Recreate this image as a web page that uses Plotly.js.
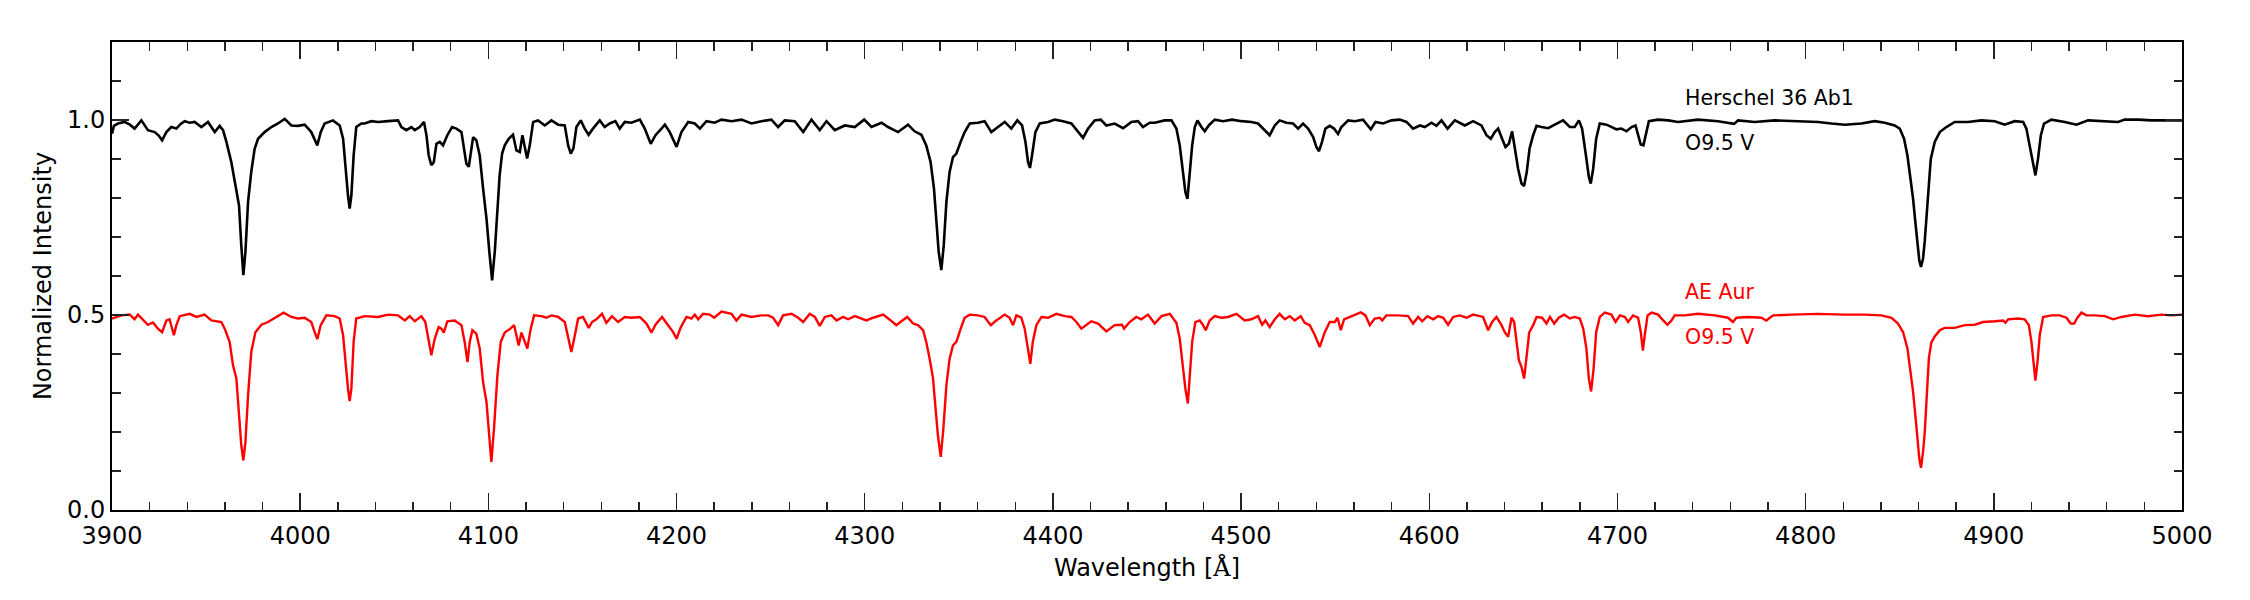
<!DOCTYPE html>
<html>
<head>
<meta charset="utf-8">
<script src="https://cdn.plot.ly/plotly-3.0.1.min.js"></script>
<style>html,body{margin:0;padding:0;background:#fff;}</style>
</head>
<body>
<div id="chart" style="width:2250px;height:600px;"></div>
<script>
// Herschel 36 Ab1 spectrum: [wavelength (Å), normalized intensity]
const herschelSpectrum = [
[3900.0,0.965],[3901.0,0.985],[3903.2,0.991],[3906.7,0.995],[3909.5,0.988],[3912.0,0.978],[3915.6,0.999],[3917.5,0.985],
[3919.1,0.974],[3922.7,0.969],[3924.8,0.960],[3926.6,0.948],[3928.9,0.969],[3931.5,0.982],[3934.2,0.978],[3936.5,0.990],
[3938.6,0.997],[3941.3,0.993],[3943.9,0.995],[3947.5,0.982],[3951.0,0.995],[3954.6,0.969],[3957.2,0.985],[3959.0,0.974],
[3960.8,0.944],[3963.4,0.892],[3966.1,0.815],[3967.5,0.781],[3968.7,0.679],[3969.8,0.602],[3970.9,0.662],[3972.3,0.790],
[3974.0,0.867],[3975.8,0.926],[3977.6,0.952],[3981.1,0.969],[3984.7,0.982],[3988.2,0.991],[3991.8,1.003],[3995.3,0.986],
[3998.8,0.985],[4002.4,0.988],[4005.9,0.969],[4007.7,0.952],[4009.1,0.935],[4010.9,0.969],[4013.0,0.991],[4017.4,0.999],
[4021.0,0.986],[4022.8,0.952],[4024.0,0.875],[4025.4,0.807],[4026.3,0.773],[4027.2,0.807],[4028.4,0.909],[4029.8,0.982],
[4032.5,0.991],[4034.3,0.991],[4037.8,0.997],[4041.4,0.995],[4046.7,0.997],[4052.0,0.999],[4053.8,0.982],[4056.4,0.974],
[4059.1,0.982],[4060.9,0.974],[4063.5,0.982],[4065.8,0.995],[4067.1,0.961],[4068.3,0.909],[4069.7,0.884],[4071.0,0.892],
[4072.4,0.939],[4074.2,0.944],[4075.9,0.935],[4078.2,0.961],[4080.7,0.982],[4083.0,0.978],[4085.7,0.969],[4087.1,0.918],
[4088.3,0.888],[4089.6,0.880],[4090.6,0.918],[4091.9,0.956],[4093.6,0.948],[4095.4,0.909],[4097.2,0.824],[4099.0,0.747],
[4100.7,0.653],[4102.0,0.589],[4103.4,0.662],[4104.8,0.773],[4106.0,0.858],[4107.3,0.914],[4108.7,0.935],[4110.8,0.952],
[4113.1,0.962],[4114.9,0.922],[4116.7,0.918],[4118.1,0.961],[4119.3,0.935],[4120.6,0.901],[4122.0,0.935],[4123.8,0.995],
[4126.4,0.999],[4130.0,0.986],[4133.5,0.999],[4137.1,0.988],[4140.6,0.986],[4142.4,0.935],[4143.8,0.914],[4145.2,0.927],
[4146.8,0.982],[4149.1,0.999],[4151.2,0.978],[4153.3,0.962],[4155.6,0.978],[4159.2,0.999],[4161.8,0.982],[4164.5,0.991],
[4167.5,0.997],[4169.8,0.978],[4172.5,0.995],[4176.0,0.993],[4180.5,1.001],[4183.1,0.978],[4186.3,0.939],[4188.8,0.961],
[4192.0,0.978],[4193.8,0.988],[4196.4,0.969],[4200.0,0.931],[4202.6,0.969],[4206.2,0.995],[4209.7,0.991],[4212.4,0.978],
[4215.9,0.997],[4220.3,0.993],[4223.9,1.001],[4229.2,0.997],[4234.5,1.001],[4239.8,0.991],[4245.1,0.997],[4250.4,1.001],
[4254.0,0.982],[4257.5,0.999],[4262.8,0.997],[4267.3,0.969],[4271.7,1.001],[4276.1,0.974],[4279.7,0.997],[4284.1,0.974],
[4289.4,0.986],[4294.7,0.982],[4299.7,1.001],[4303.6,0.982],[4308.9,0.993],[4312.4,0.982],[4317.7,0.969],[4323.0,0.988],
[4326.5,0.971],[4330.1,0.962],[4332.7,0.935],[4335.0,0.892],[4336.8,0.824],[4338.1,0.738],[4339.3,0.662],[4340.7,0.615],
[4342.0,0.679],[4343.4,0.790],[4345.1,0.867],[4346.9,0.905],[4348.7,0.914],[4351.0,0.944],[4353.1,0.969],[4355.8,0.991],
[4360.2,0.993],[4363.7,0.997],[4367.3,0.969],[4370.8,0.982],[4374.4,0.995],[4377.9,0.978],[4381.1,0.999],[4383.6,0.986],
[4385.4,0.944],[4386.8,0.892],[4387.8,0.877],[4388.9,0.909],[4390.7,0.969],[4393.0,0.991],[4397.4,0.995],[4401.0,1.001],
[4405.4,0.997],[4409.8,0.991],[4413.3,0.971],[4416.0,0.954],[4418.7,0.978],[4422.2,0.999],[4425.4,1.001],[4428.4,0.986],
[4432.8,0.991],[4437.3,0.979],[4441.7,0.995],[4445.2,0.997],[4447.9,0.982],[4451.4,0.993],[4454.1,0.993],[4459.4,0.999],
[4463.0,0.999],[4465.6,0.978],[4467.4,0.935],[4469.2,0.867],[4470.4,0.815],[4471.5,0.798],[4472.7,0.858],[4474.0,0.935],
[4475.4,0.982],[4476.8,0.999],[4478.9,0.982],[4480.7,0.971],[4482.8,0.986],[4486.0,1.001],[4490.4,0.997],[4495.2,1.001],
[4500.2,0.997],[4505.5,0.995],[4509.0,0.991],[4511.7,0.978],[4515.2,0.961],[4517.9,0.986],[4520.5,0.999],[4524.1,0.993],
[4527.6,0.991],[4530.3,0.978],[4532.9,0.991],[4535.6,0.978],[4538.3,0.956],[4540.0,0.931],[4541.4,0.920],[4543.0,0.944],
[4544.8,0.978],[4547.1,0.985],[4549.4,0.978],[4551.5,0.964],[4553.3,0.982],[4556.9,0.999],[4560.4,0.997],[4564.8,1.001],
[4567.1,0.986],[4568.9,0.976],[4571.4,0.995],[4575.5,0.991],[4579.9,0.999],[4584.3,1.001],[4587.9,0.995],[4591.4,0.978],
[4595.0,0.986],[4597.6,0.982],[4601.2,0.993],[4603.8,0.985],[4606.5,0.999],[4609.7,0.978],[4613.6,0.999],[4618.9,0.986],
[4623.3,0.997],[4627.7,0.986],[4630.4,0.961],[4632.7,0.952],[4634.8,0.969],[4636.6,0.978],[4638.7,0.952],[4640.5,0.931],
[4642.3,0.939],[4644.0,0.971],[4645.5,0.927],[4647.2,0.875],[4649.0,0.837],[4650.4,0.831],[4651.8,0.867],[4653.3,0.927],
[4655.2,0.961],[4657.0,0.985],[4659.6,0.982],[4663.2,0.979],[4666.7,0.988],[4671.1,0.999],[4674.7,0.982],[4677.3,0.982],
[4679.5,0.999],[4681.2,0.978],[4683.0,0.918],[4684.8,0.854],[4685.8,0.837],[4687.1,0.875],[4688.7,0.952],[4690.6,0.991],
[4694.2,0.988],[4696.8,0.982],[4699.5,0.976],[4702.1,0.978],[4704.8,0.971],[4707.5,0.982],[4709.6,0.986],[4711.0,0.961],
[4712.4,0.937],[4713.8,0.935],[4715.3,0.965],[4716.7,0.997],[4721.6,1.001],[4727.0,0.999],[4732.2,0.995],[4742.8,1.001],
[4753.4,0.997],[4762.0,0.990],[4764.1,0.999],[4772.9,0.995],[4783.6,0.999],[4795.9,0.997],[4806.6,0.995],[4813.7,0.991],
[4820.8,0.988],[4829.6,0.991],[4836.7,0.997],[4842.0,0.993],[4847.3,0.986],[4850.0,0.978],[4852.3,0.952],[4854.1,0.909],
[4855.8,0.850],[4857.1,0.798],[4858.3,0.738],[4859.4,0.687],[4860.4,0.640],[4861.3,0.623],[4862.4,0.645],[4863.3,0.690],
[4864.4,0.770],[4865.5,0.850],[4866.5,0.900],[4868.6,0.944],[4871.3,0.969],[4874.8,0.982],[4879.2,0.995],[4886.3,0.995],
[4893.4,0.999],[4900.5,0.997],[4905.8,0.988],[4911.1,0.997],[4915.6,0.995],[4917.3,0.978],[4919.1,0.935],[4920.9,0.884],
[4922.1,0.858],[4923.5,0.901],[4925.0,0.961],[4926.7,0.991],[4930.6,1.001],[4937.7,0.995],[4943.9,0.988],[4950.1,0.999],
[4957.2,0.997],[4966.0,0.995],[4969.6,1.001],[4976.7,1.001],[4983.8,0.999],[4990.8,0.999],[5000.0,0.999]
];

// AE Aur spectrum (offset by -0.5): [wavelength (Å), normalized intensity]
const aeAurSpectrum = [
[3900.0,0.491],[3905.0,0.499],[3909.4,0.501],[3912.0,0.489],[3913.8,0.501],[3916.5,0.489],[3919.1,0.475],[3921.8,0.481],
[3924.4,0.465],[3926.6,0.456],[3928.9,0.486],[3930.6,0.489],[3932.1,0.465],[3932.9,0.448],[3934.2,0.474],[3936.0,0.497],
[3941.3,0.503],[3944.8,0.495],[3949.2,0.501],[3952.8,0.486],[3958.1,0.482],[3959.9,0.465],[3962.5,0.431],[3964.3,0.371],
[3966.1,0.337],[3967.5,0.234],[3968.7,0.166],[3969.8,0.127],[3970.9,0.174],[3972.3,0.294],[3974.0,0.405],[3976.2,0.456],
[3979.4,0.475],[3982.9,0.482],[3986.4,0.493],[3991.2,0.506],[3995.3,0.495],[3998.8,0.491],[4002.4,0.493],[4005.9,0.482],
[4007.7,0.456],[4009.1,0.438],[4010.9,0.474],[4013.9,0.499],[4018.3,0.497],[4021.0,0.491],[4022.8,0.448],[4024.0,0.379],
[4025.4,0.311],[4026.3,0.279],[4027.2,0.311],[4028.4,0.431],[4029.8,0.491],[4034.3,0.497],[4041.4,0.495],[4046.7,0.501],
[4052.0,0.499],[4055.6,0.486],[4058.2,0.497],[4060.9,0.484],[4064.4,0.497],[4066.5,0.482],[4068.0,0.439],[4069.7,0.397],
[4071.5,0.439],[4073.6,0.469],[4075.0,0.465],[4076.3,0.455],[4078.2,0.484],[4082.1,0.486],[4085.7,0.474],[4087.4,0.431],
[4088.9,0.379],[4090.1,0.431],[4091.5,0.461],[4093.6,0.452],[4095.4,0.414],[4097.2,0.328],[4099.0,0.277],[4100.2,0.209],
[4101.6,0.123],[4103.0,0.209],[4104.8,0.345],[4106.6,0.431],[4108.7,0.455],[4111.7,0.465],[4113.7,0.474],[4114.9,0.448],
[4116.1,0.422],[4117.6,0.455],[4119.0,0.436],[4120.7,0.414],[4122.5,0.465],[4124.3,0.499],[4128.2,0.497],[4130.8,0.493],
[4133.5,0.499],[4137.1,0.495],[4140.6,0.482],[4142.7,0.439],[4144.1,0.405],[4145.6,0.439],[4147.7,0.491],[4150.3,0.495],
[4151.6,0.482],[4153.3,0.467],[4155.1,0.482],[4157.4,0.489],[4160.4,0.503],[4162.7,0.480],[4165.7,0.497],[4168.9,0.482],
[4172.5,0.495],[4176.0,0.493],[4180.5,0.495],[4184.0,0.478],[4186.7,0.455],[4188.8,0.475],[4192.3,0.495],[4195.5,0.474],
[4198.2,0.456],[4200.0,0.439],[4202.3,0.469],[4205.3,0.495],[4207.9,0.491],[4209.7,0.501],[4211.5,0.489],[4214.1,0.503],
[4217.7,0.501],[4220.0,0.493],[4223.9,0.509],[4229.2,0.503],[4231.8,0.486],[4234.5,0.501],[4239.8,0.495],[4245.1,0.499],
[4248.7,0.499],[4251.3,0.493],[4254.0,0.474],[4256.6,0.499],[4261.1,0.503],[4264.6,0.493],[4267.3,0.482],[4270.8,0.503],
[4273.5,0.495],[4276.1,0.472],[4278.8,0.495],[4282.3,0.499],[4285.0,0.486],[4288.5,0.495],[4291.2,0.489],[4294.7,0.497],
[4298.6,0.491],[4300.9,0.486],[4304.5,0.493],[4309.8,0.501],[4313.3,0.488],[4316.8,0.474],[4319.5,0.484],[4322.6,0.495],
[4325.7,0.478],[4328.3,0.474],[4331.0,0.461],[4332.7,0.431],[4334.5,0.388],[4336.3,0.337],[4337.5,0.268],[4338.9,0.191],
[4340.4,0.136],[4341.8,0.209],[4343.4,0.320],[4345.1,0.388],[4346.9,0.422],[4348.7,0.431],[4351.0,0.465],[4353.1,0.493],
[4355.8,0.501],[4360.2,0.499],[4363.7,0.495],[4367.0,0.474],[4369.9,0.486],[4374.4,0.501],[4377.0,0.493],[4378.8,0.474],
[4380.6,0.499],[4383.2,0.493],[4385.0,0.465],[4386.8,0.405],[4388.0,0.375],[4389.3,0.431],[4391.2,0.474],[4393.9,0.495],
[4397.4,0.493],[4401.8,0.503],[4406.3,0.497],[4409.8,0.495],[4412.5,0.482],[4415.1,0.465],[4417.8,0.474],[4420.4,0.484],
[4424.0,0.478],[4428.4,0.458],[4432.8,0.474],[4436.7,0.475],[4437.8,0.465],[4440.8,0.482],[4444.3,0.495],[4447.0,0.489],
[4450.5,0.501],[4454.1,0.478],[4457.7,0.497],[4462.1,0.503],[4465.6,0.480],[4467.4,0.439],[4469.2,0.362],[4470.4,0.311],
[4471.7,0.273],[4472.7,0.337],[4474.0,0.431],[4475.7,0.482],[4478.0,0.486],[4479.8,0.474],[4481.2,0.461],[4483.3,0.486],
[4486.0,0.497],[4489.5,0.493],[4493.1,0.495],[4497.5,0.503],[4501.9,0.486],[4505.5,0.489],[4509.0,0.497],[4511.2,0.475],
[4512.9,0.486],[4515.2,0.469],[4517.9,0.489],[4520.5,0.503],[4523.2,0.489],[4525.9,0.497],[4528.5,0.486],[4531.7,0.497],
[4533.8,0.480],[4536.5,0.474],[4539.2,0.448],[4541.8,0.418],[4544.5,0.456],[4547.1,0.482],[4549.8,0.482],[4551.2,0.493],
[4553.0,0.461],[4554.7,0.489],[4557.7,0.495],[4560.8,0.501],[4563.6,0.507],[4566.1,0.499],[4568.4,0.474],[4571.0,0.491],
[4573.7,0.493],[4575.0,0.486],[4577.2,0.499],[4583.4,0.499],[4588.8,0.497],[4591.4,0.478],[4594.1,0.495],[4596.2,0.484],
[4599.0,0.497],[4602.1,0.489],[4604.7,0.497],[4607.4,0.493],[4610.0,0.475],[4612.7,0.495],[4616.2,0.499],[4619.8,0.493],
[4623.3,0.501],[4628.6,0.495],[4631.3,0.461],[4633.4,0.482],[4635.7,0.495],[4638.4,0.474],[4640.1,0.456],[4641.9,0.444],
[4643.7,0.493],[4645.1,0.482],[4646.3,0.431],[4647.6,0.384],[4649.0,0.367],[4650.4,0.337],[4651.8,0.397],[4653.1,0.455],
[4655.2,0.474],[4657.0,0.495],[4660.0,0.493],[4662.3,0.478],[4664.1,0.495],[4666.4,0.478],[4668.8,0.493],[4671.7,0.501],
[4674.7,0.491],[4677.3,0.495],[4680.0,0.491],[4681.8,0.465],[4683.5,0.414],[4684.8,0.337],[4686.0,0.304],[4687.3,0.362],
[4688.7,0.456],[4690.6,0.495],[4693.3,0.506],[4696.8,0.501],[4699.0,0.482],[4701.3,0.499],[4703.9,0.495],[4705.7,0.482],
[4708.3,0.499],[4711.0,0.493],[4712.4,0.456],[4713.5,0.409],[4714.5,0.448],[4716.0,0.499],[4718.1,0.506],[4721.6,0.501],
[4724.3,0.486],[4726.6,0.475],[4728.7,0.486],[4730.4,0.499],[4735.7,0.499],[4742.8,0.503],[4751.7,0.499],[4758.7,0.493],
[4761.4,0.482],[4763.2,0.493],[4769.4,0.495],[4776.5,0.493],[4779.1,0.486],[4782.7,0.499],[4792.4,0.501],[4806.6,0.503],
[4820.8,0.501],[4831.4,0.501],[4840.2,0.499],[4845.6,0.493],[4849.1,0.478],[4851.8,0.456],[4854.1,0.414],[4855.8,0.353],
[4857.1,0.303],[4858.3,0.243],[4859.4,0.183],[4860.4,0.132],[4861.3,0.108],[4862.4,0.149],[4863.3,0.200],[4864.4,0.310],
[4865.5,0.390],[4866.8,0.430],[4868.6,0.445],[4871.3,0.461],[4873.9,0.467],[4879.2,0.467],[4884.6,0.474],[4889.9,0.475],
[4894.3,0.482],[4900.5,0.484],[4904.9,0.486],[4906.2,0.480],[4907.6,0.489],[4912.9,0.491],[4916.4,0.489],[4918.6,0.474],
[4920.0,0.431],[4921.1,0.379],[4922.1,0.332],[4923.2,0.379],[4924.4,0.448],[4926.2,0.495],[4930.6,0.499],[4935.0,0.499],
[4938.6,0.493],[4940.9,0.478],[4942.7,0.478],[4944.4,0.493],[4946.6,0.506],[4949.2,0.499],[4953.6,0.499],[4959.0,0.497],
[4963.4,0.489],[4967.8,0.495],[4974.9,0.501],[4982.0,0.497],[4989.1,0.501],[4994.4,0.499],[5000.0,0.501]
];

const starNames = ["Herschel 36 Ab1", "AE Aur"];
const spectralTypes = ["O9.5 V", "O9.5 V"];
const labelWavelength = [4735, 4735];
const nameLabelY = [1.057, 0.558];
const typeLabelY = [0.942, 0.443];
const seriesColors = ["#000000", "#ff0000"];
const lineWidths = [2.6, 2.4];
const xTickValues = [3900, 4000, 4100, 4200, 4300, 4400, 4500, 4600, 4700, 4800, 4900, 5000];
const yTickValues = [0.0, 0.5, 1.0];
const yTickLabels = ["0.0", "0.5", "1.0"];

const spectra = [herschelSpectrum, aeAurSpectrum];
const traces = spectra.map((s, i) => ({
  type: "scatter", mode: "lines",
  x: s.map(p => p[0]), y: s.map(p => p[1]),
  line: {color: seriesColors[i], width: lineWidths[i]},
  name: starNames[i], hoverinfo: "skip"
}));

const annotations = [];
starNames.forEach((n, i) => {
  annotations.push({x: labelWavelength[i], y: nameLabelY[i], xref: "x", yref: "y", text: n,
    showarrow: false, xanchor: "left", yanchor: "middle", font: {size: 20.5, color: seriesColors[i]}});
  annotations.push({x: labelWavelength[i], y: typeLabelY[i], xref: "x", yref: "y", text: spectralTypes[i],
    showarrow: false, xanchor: "left", yanchor: "middle", font: {size: 20.5, color: seriesColors[i]}});
});

const axisCommon = {
  showline: true, linewidth: 2, linecolor: "#000", mirror: "ticks",
  ticks: "inside", ticklen: 17, tickwidth: 1.5, tickcolor: "#222",
  showgrid: false, zeroline: false,
  tickfont: {size: 24, color: "#000"}
};

const layout = {
  width: 2250, height: 600,
  margin: {l: 112, r: 68, t: 42, b: 90},
  paper_bgcolor: "#fff", plot_bgcolor: "#fff",
  font: {family: "DejaVu Sans", size: 24, color: "#000"},
  showlegend: false,
  xaxis: Object.assign({}, axisCommon, {
    range: [3900, 5000], tickmode: "array", tickvals: xTickValues, ticklabelstandoff: 3,
    minor: {ticks: "inside", ticklen: 8.5, tickwidth: 1.5, tickcolor: "#222", dtick: 20, tick0: 3900, showgrid: false},
    title: {text: "Wavelength [<span style='font-family:DejaVu Serif'>Å</span>]", font: {size: 24}, standoff: 10}
  }),
  yaxis: Object.assign({}, axisCommon, {
    range: [0, 1.2], tickmode: "array", tickvals: yTickValues, ticktext: yTickLabels,
    minor: {ticks: "inside", ticklen: 8.5, tickwidth: 1.5, tickcolor: "#222", dtick: 0.1, tick0: 0, showgrid: false},
    title: {text: "Normalized Intensity", font: {size: 24}, standoff: 9}
  }),
  annotations: annotations
};

Plotly.newPlot("chart", traces, layout, {displayModeBar: false, staticPlot: true});
</script>
</body>
</html>
